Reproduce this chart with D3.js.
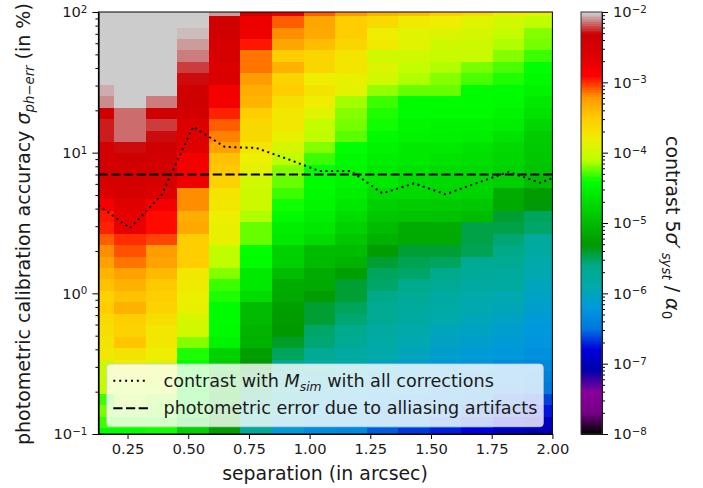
<!DOCTYPE html>
<html>
<head>
<meta charset="utf-8">
<script src="https://d3js.org/d3.v7.min.js"></script>
<style>
  body { margin: 0; background: #fff; }
  text { font-family: "DejaVu Sans", sans-serif; fill: #1a1a1a; }
</style>
</head>
<body>
<div id="chart"></div>
<script>
// separation of each map column (arcsec)
var separation = [0.13, 0.26, 0.39, 0.52, 0.65, 0.78, 0.91, 1.04, 1.17, 1.30, 1.43, 1.56, 1.69, 1.82, 1.95];
// photometric accuracy of each map row (%), bottom to top
var accuracy = [0.1, 0.1206, 0.1455, 0.1755, 0.2118, 0.2555, 0.3082, 0.3718, 0.4486, 0.5412, 0.6516, 0.786, 0.948,
  1.143, 1.379, 1.663, 2.006, 2.42, 2.919, 3.521, 4.246, 5.122, 6.178, 7.452, 8.987, 10.84, 13.07, 15.77, 19.02,
  22.94, 27.67, 33.37, 40.25, 48.55, 58.56, 70.63, 85.2, 102.8];
// log10(contrast), one list per column, bottom row first
var logContrast = [
  [-4.4,-4.32,-4.22,-4.32,-4.08,-4.02,-4.0,-3.75,-3.7,-3.65,-3.62,-3.52,-3.55,-3.44,-3.38,-3.25,-3.18,-3.1,-2.97,-2.95,-2.8,-2.6,-2.48,-2.42,-2.42,-2.45,-2.27,-2.27,-2.38,-2.1,-2.05,-1.9,-1.9,-1.9,-1.9,-1.9,-1.9,-1.9],
  [-4.4,-4.3,-4.2,-4.12,-4.05,-3.95,-3.82,-3.7,-3.47,-3.57,-3.54,-3.35,-3.44,-3.35,-3.25,-3.13,-3.07,-3.0,-2.72,-2.68,-2.65,-2.5,-2.45,-2.4,-2.38,-2.3,-2.15,-2.15,-2.15,-1.9,-1.9,-1.9,-1.9,-1.9,-1.9,-1.9,-1.9,-1.9],
  [-4.38,-4.3,-4.22,-4.18,-4.08,-4.0,-3.9,-3.8,-3.74,-3.74,-3.68,-3.55,-3.54,-3.48,-3.4,-3.25,-3.23,-3.05,-2.92,-2.92,-2.8,-2.6,-2.48,-2.42,-2.4,-2.35,-2.3,-2.22,-2.35,-2.12,-1.9,-1.9,-1.9,-1.9,-1.9,-1.9,-1.9,-1.9],
  [-4.8,-4.75,-4.6,-4.5,-4.45,-4.42,-4.4,-4.35,-4.2,-3.98,-3.95,-3.85,-3.82,-3.76,-3.75,-3.52,-3.5,-3.5,-3.3,-3.33,-3.18,-3.18,-2.75,-2.8,-2.8,-2.65,-2.62,-2.6,-2.42,-2.37,-2.35,-2.3,-2.22,-2.13,-2.08,-2.03,-1.9,-1.9],
  [-5.28,-5.2,-5.1,-5.0,-4.95,-4.9,-4.82,-4.8,-4.5,-4.45,-4.42,-4.42,-4.35,-4.32,-4.18,-4.08,-4.08,-3.85,-3.83,-3.82,-3.75,-3.72,-3.55,-3.48,-3.45,-3.25,-3.17,-3.1,-2.97,-2.8,-2.8,-2.58,-2.6,-2.5,-2.5,-2.38,-2.35,-2.08],
  [-5.75,-5.72,-5.7,-5.55,-5.5,-5.4,-5.32,-5.25,-5.08,-5.05,-5.02,-5.0,-4.7,-4.62,-4.58,-4.42,-4.4,-4.25,-4.25,-4.12,-4.0,-4.0,-3.98,-3.87,-3.82,-3.72,-3.6,-3.6,-3.5,-3.38,-3.33,-3.23,-3.13,-3.13,-2.96,-2.78,-2.75,-2.35],
  [-6.15,-6.1,-6.0,-5.95,-5.9,-5.85,-5.68,-5.5,-5.38,-5.3,-5.28,-5.25,-5.15,-5.12,-5.0,-4.82,-4.8,-4.58,-4.55,-4.45,-4.38,-4.32,-4.25,-4.2,-4.08,-3.95,-3.85,-3.75,-3.75,-3.68,-3.52,-3.57,-3.35,-3.5,-3.28,-3.18,-3.1,-2.7],
  [-6.3,-6.25,-6.18,-6.1,-6.05,-5.95,-5.85,-5.72,-5.55,-5.52,-5.4,-5.4,-5.28,-5.15,-5.12,-5.02,-5.0,-4.7,-4.62,-4.55,-4.48,-4.45,-4.43,-4.4,-4.32,-4.18,-4.08,-4.05,-3.88,-3.8,-3.7,-3.8,-3.58,-3.58,-3.42,-3.3,-3.28,-3.1],
  [-6.32,-6.28,-6.2,-6.15,-6.1,-5.98,-5.88,-5.8,-5.72,-5.65,-5.55,-5.5,-5.42,-5.4,-5.25,-5.08,-5.0,-4.9,-4.8,-4.7,-4.62,-4.55,-4.5,-4.48,-4.45,-4.4,-4.27,-4.22,-4.18,-4.15,-3.86,-3.85,-3.72,-3.72,-3.58,-3.5,-3.5,-3.2],
  [-6.55,-6.38,-6.32,-6.28,-6.18,-6.1,-6.02,-5.9,-5.85,-5.8,-5.72,-5.68,-5.6,-5.52,-5.5,-5.42,-5.28,-5.08,-4.98,-4.9,-4.82,-4.7,-4.6,-4.58,-4.55,-4.5,-4.45,-4.38,-4.35,-4.32,-4.17,-3.98,-3.9,-3.98,-3.76,-3.8,-3.62,-3.35],
  [-6.65,-6.45,-6.38,-6.3,-6.22,-6.18,-6.1,-6.0,-5.92,-5.88,-5.82,-5.78,-5.72,-5.65,-5.52,-5.48,-5.42,-5.15,-5.12,-4.92,-4.85,-4.72,-4.7,-4.65,-4.6,-4.58,-4.5,-4.47,-4.43,-4.42,-4.25,-4.13,-4.05,-3.98,-3.88,-3.88,-3.78,-3.42],
  [-6.72,-6.55,-6.45,-6.38,-6.3,-6.22,-6.15,-6.1,-6.05,-6.0,-5.9,-5.85,-5.8,-5.72,-5.65,-5.5,-5.42,-5.15,-5.12,-4.95,-4.88,-4.75,-4.72,-4.7,-4.65,-4.6,-4.53,-4.5,-4.44,-4.42,-4.25,-4.18,-4.13,-4.02,-4.0,-3.9,-3.8,-3.52],
  [-6.8,-6.65,-6.55,-6.45,-6.38,-6.3,-6.22,-6.15,-6.1,-6.05,-5.98,-5.92,-5.88,-5.8,-5.75,-5.68,-5.48,-5.45,-5.45,-4.98,-4.9,-4.78,-4.75,-4.72,-4.68,-4.65,-4.55,-4.5,-4.45,-4.42,-4.42,-4.28,-4.22,-4.02,-4.0,-3.95,-3.88,-3.62],
  [-6.95,-6.8,-6.65,-6.55,-6.42,-6.35,-6.3,-6.2,-6.15,-6.12,-6.05,-5.98,-5.92,-5.82,-5.78,-5.7,-5.6,-5.55,-5.45,-5.4,-5.15,-5.12,-4.82,-4.78,-4.75,-4.72,-4.65,-4.55,-4.5,-4.45,-4.42,-4.35,-4.28,-4.18,-4.12,-4.05,-3.98,-3.78],
  [-7.05,-6.95,-6.75,-6.62,-6.5,-6.42,-6.35,-6.28,-6.22,-6.2,-6.15,-6.1,-6.05,-6.0,-5.92,-5.88,-5.82,-5.78,-5.52,-5.5,-5.32,-5.28,-4.98,-4.92,-4.9,-4.88,-4.85,-4.75,-4.65,-4.6,-4.5,-4.45,-4.4,-4.32,-4.22,-4.18,-4.08,-3.85]
];
// dotted curve: accuracy at which the contrast is reached
var curveSeparation = [0.13, 0.26, 0.39, 0.52, 0.65, 0.78, 0.91, 1.04, 1.17, 1.30, 1.43, 1.56, 1.69, 1.82, 1.95, 2.0];
var curveAccuracy = [4.24, 2.91, 5.0, 15.3, 11.0, 10.8, 9.0, 7.4, 7.4, 5.14, 6.05, 5.06, 6.1, 7.3, 6.1, 6.6];
// dashed line
var aliasingError = 7;

var xTicks = [0.25, 0.5, 0.75, 1.0, 1.25, 1.5, 1.75, 2.0];
var yTicks = [0.1, 1, 10, 100];
var yExponents = ["\u22121", "0", "1", "2"];
var barTicks = [1e-8, 1e-7, 1e-6, 1e-5, 1e-4, 1e-3, 1e-2];
var barExponents = ["\u22128", "\u22127", "\u22126", "\u22125", "\u22124", "\u22123", "\u22122"];
var minorFactors = [2, 3, 4, 5, 6, 7, 8, 9];

// nipy_spectral
var cmapStops = [0, .05, .10, .15, .20, .25, .30, .35, .40, .45, .50, .55, .60, .65, .70, .75, .80, .85, .90, .95, 1];
var cmapColors = ["#000000", "#770088", "#880099", "#0000aa", "#0000dd", "#0077dd", "#0099dd", "#00aaaa", "#00aa88",
  "#009900", "#00bb00", "#00dd00", "#00ff00", "#bbff00", "#eeee00", "#ffcc00", "#ff9900", "#ff0000", "#dd0000",
  "#cc0000", "#cccccc"];

var width = 703, height = 488,
    left = 98.4, right = 552.4, top_ = 12, bottom = 434,
    barLeft = 581, barRight = 602;

var svg = d3.select("#chart").append("svg")
    .attr("width", width)
    .attr("height", height)
    .style("display", "block");

var x = d3.scaleLinear().domain([0.13, 2.0]).range([left, right]);
var y = d3.scaleLog().domain([0.1, 100]).range([bottom, top_]);
var norm = d3.scaleLog().domain([1e-8, 1e-2]).range([0, 1]).clamp(true);
var barY = d3.scaleLog().domain([1e-8, 1e-2]).range([bottom, top_]);
var cmap = d3.scaleLinear().domain(cmapStops).range(cmapColors);
function colorOf(v) {
  var idx = Math.min(255, Math.floor(norm(v) * 256));
  return cmap(idx / 255);
}

svg.append("clipPath").attr("id", "plotclip").append("rect")
    .attr("x", left).attr("y", top_).attr("width", right - left).attr("height", bottom - top_);

// cell edges half way between neighbouring centres
var step = separation[1] - separation[0];
var rowEdge = function (i) {
  if (i <= 0) return accuracy[0] * accuracy[0] / Math.sqrt(accuracy[0] * accuracy[1]);
  if (i >= accuracy.length) return accuracy[accuracy.length - 1] * 1.1;
  return Math.sqrt(accuracy[i - 1] * accuracy[i]);
};

var cells = [];
separation.forEach(function (s, c) {
  accuracy.forEach(function (a, r) {
    cells.push({ s: s, r: r, v: Math.pow(10, logContrast[c][r]) });
  });
});

var plot = svg.append("g").attr("clip-path", "url(#plotclip)");

plot.selectAll("rect.cell")
    .data(cells)
    .enter().append("rect")
    .attr("class", "cell")
    .attr("x", function (d) { return x(d.s - step / 2); })
    .attr("width", x(step) - x(0))
    .attr("y", function (d) { return y(rowEdge(d.r + 1)); })
    .attr("height", function (d) { return y(rowEdge(d.r)) - y(rowEdge(d.r + 1)); })
    .attr("shape-rendering", "crispEdges")
    .attr("fill", function (d) { return colorOf(d.v); });

var curve = d3.line()
    .x(function (d) { return x(d[0]); })
    .y(function (d) { return y(d[1]); });

plot.append("path")
    .datum(d3.zip(curveSeparation, curveAccuracy))
    .attr("d", curve)
    .attr("fill", "none")
    .attr("stroke", "#000")
    .attr("stroke-width", 2)
    .attr("stroke-dasharray", "2,3.6");

plot.append("path")
    .datum([[0.13, aliasingError], [2.0, aliasingError]])
    .attr("d", curve)
    .attr("fill", "none")
    .attr("stroke", "#000")
    .attr("stroke-width", 2)
    .attr("stroke-dasharray", "9.2,3.5");

// axes
function styleAxis(g) {
  g.selectAll(".domain").attr("stroke", "#000").attr("stroke-width", 1);
  g.selectAll(".tick line").attr("stroke", "#000").attr("stroke-width", 1);
  g.selectAll(".tick text").style("font-size", "14.7px").style("font-family", "'DejaVu Sans'").attr("fill", "#1a1a1a");
}
function powerLabels(g, exps) {
  g.selectAll(".tick text").each(function (d, i) {
    var t = d3.select(this);
    t.text("");
    t.append("tspan").text("10");
    t.append("tspan").attr("dy", "-0.42em").style("font-size", "10.3px").text(exps[i]);
  });
}
function minorValues(decades) {
  var out = [];
  decades.forEach(function (d) {
    minorFactors.forEach(function (f) { out.push(d * f); });
  });
  return out;
}

var xAxisG = svg.append("g")
    .attr("transform", "translate(0," + bottom + ")")
    .call(d3.axisBottom(x).tickValues(xTicks).tickFormat(d3.format(".2f")).tickSize(5).tickPadding(5).tickSizeOuter(0))
    .call(styleAxis);

var yAxisG = svg.append("g")
    .attr("transform", "translate(" + left + ",0)")
    .call(d3.axisLeft(y).tickValues(yTicks).tickSize(6).tickPadding(5).tickSizeOuter(0))
    .call(styleAxis)
    .call(powerLabels, yExponents);

svg.append("g")
    .attr("transform", "translate(" + left + ",0)")
    .call(d3.axisLeft(y).tickValues(minorValues([0.1, 1, 10])).tickSize(3).tickFormat("").tickSizeOuter(0))
    .call(styleAxis);

svg.append("rect")
    .attr("x", left).attr("y", top_).attr("width", right - left).attr("height", bottom - top_)
    .attr("fill", "none").attr("stroke", "#000").attr("stroke-width", 1);

// colour bar, 256 levels like the colormap
var levels = d3.range(256);
svg.selectAll("rect.level")
    .data(levels)
    .enter().append("rect")
    .attr("class", "level")
    .attr("x", barLeft)
    .attr("width", barRight - barLeft)
    .attr("y", function (d) { return bottom - (d + 1) / 256 * (bottom - top_); })
    .attr("height", (bottom - top_) / 256 + 0.5)
    .attr("shape-rendering", "crispEdges")
    .attr("fill", function (d) { return cmap(d / 255); });

svg.append("g")
    .attr("transform", "translate(" + barRight + ",0)")
    .call(d3.axisRight(barY).tickValues(barTicks).tickSize(6).tickPadding(5).tickSizeOuter(0))
    .call(styleAxis)
    .call(powerLabels, barExponents);

svg.append("g")
    .attr("transform", "translate(" + barRight + ",0)")
    .call(d3.axisRight(barY).tickValues(minorValues([1e-8, 1e-7, 1e-6, 1e-5, 1e-4, 1e-3])).tickSize(3).tickFormat("").tickSizeOuter(0))
    .call(styleAxis);

svg.append("rect")
    .attr("x", barLeft).attr("y", top_).attr("width", barRight - barLeft).attr("height", bottom - top_)
    .attr("fill", "none").attr("stroke", "#333").attr("stroke-width", 1);

// text made of runs: [string, "i" italic, "sub"/"sup"]
function runs(t, list) {
  var off = 0;
  list.forEach(function (r) {
    var ts = t.append("tspan").text(r[0]);
    if (r[1]) ts.style("font-style", "italic");
    var shift = r[2] === "sub" ? 3.8 : 0;
    if (shift !== off) ts.attr("dy", shift - off);
    off = shift;
    if (r[2] === "sub") ts.style("font-size", "70%");
  });
}

svg.append("text")
    .attr("transform", "translate(325,480)")
    .attr("text-anchor", "middle")
    .style("font-size", "18.9px")
    .text("separation (in arcsec)");

svg.append("text")
    .attr("transform", "translate(30,445) rotate(-90)")
    .style("font-size", "19px")
    .call(runs, [["photometric calibration accuracy "], ["\u03c3", "i"], ["ph\u2212err", "i", "sub"], [" (in %)"]]);

svg.append("text")
    .attr("transform", "translate(666,136) rotate(90)")
    .style("font-size", "19px")
    .call(runs, [["contrast 5"], ["\u03c3\u2032\u2009", "i"], ["syst", "i", "sub"], [" / "], ["\u03b1", "i"], ["0", null, "sub"]]);

// legend
var legendLabels = [
  [["contrast with "], ["M", "i"], ["sim", "i", "sub"], [" with all corrections"]],
  [["photometric error due to alliasing artifacts"]]
];
var legendDash = ["2,3.9", "9.2,3.5"];
var legendY = [380.7, 408.3];

svg.append("rect")
    .attr("x", 106.7).attr("y", 364).attr("width", 436.6).attr("height", 62.7)
    .attr("rx", 3.5)
    .attr("fill", "#fff").attr("fill-opacity", 0.8)
    .attr("stroke", "#ccc").attr("stroke-opacity", 0.8);

legendLabels.forEach(function (l, i) {
  svg.append("line")
      .attr("x1", 113.3).attr("x2", 148.3)
      .attr("y1", legendY[i]).attr("y2", legendY[i])
      .attr("stroke", "#000").attr("stroke-width", 2)
      .attr("stroke-dasharray", legendDash[i]);
  svg.append("text")
      .attr("x", 163.5)
      .attr("y", legendY[i] + 6)
      .style("font-size", "17.6px")
      .call(runs, l);
});
</script>
</body>
</html>
